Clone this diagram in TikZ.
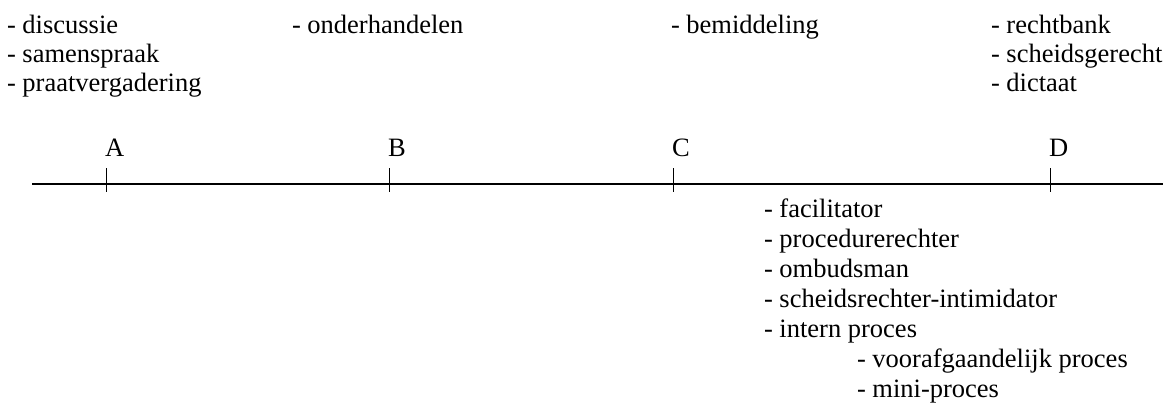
\documentclass[tikz,border=0pt]{standalone}
\usepackage{fontspec}
\setmainfont{Liberation Serif}
\begin{document}
\begin{tikzpicture}[x=1pt,y=-1pt,
  item/.style={anchor=base west,inner sep=0pt,outer sep=0pt,font=\fontsize{26.5}{30}\selectfont},
  axis/.style={line width=2pt},
  tick/.style={line width=0.9pt}]
\useasboundingbox (0,0) rectangle (1176,405);

% upper lists
\node[item] (t1a) at (7,33) {- discussie};
\node[item] (t1b) at (7,62) {- samenspraak};
\node[item] (t1c) at (7,91) {- praatvergadering};
\node[item] (t2a) at (292,33) {- onderhandelen};
\node[item] (t3a) at (671,33) {- bemiddeling};
\node[item] (t4a) at (991,33) {- rechtbank};
\node[item] (t4b) at (991,62) {- scheidsgerecht};
\node[item] (t4c) at (991,91) {- dictaat};

% axis with tick marks
\coordinate (L) at (32,184);
\coordinate (R) at (1163,184);
\draw[axis] (L) -- (R);
\foreach \n/\x in {A/106,B/389,C/673,D/1050}{
  \coordinate (tick\n top) at (\x,168);
  \coordinate (tick\n bot) at (\x,192);
  \draw[tick] (tick\n top) -- (tick\n bot);
  \node[item] (lab\n) at (\x-1,156) {\n};
}

% lower list
\node[item] (b1) at (764,217) {- facilitator};
\node[item] (b2) at (764,247) {- procedurerechter};
\node[item] (b3) at (764,277) {- ombudsman};
\node[item] (b4) at (764,307) {- scheidsrechter-intimidator};
\node[item] (b5) at (764,337) {- intern proces};
\node[item] (b6) at (857,367) {- voorafgaandelijk proces};
\node[item] (b7) at (857,397) {- mini-proces};
\end{tikzpicture}
\end{document}
